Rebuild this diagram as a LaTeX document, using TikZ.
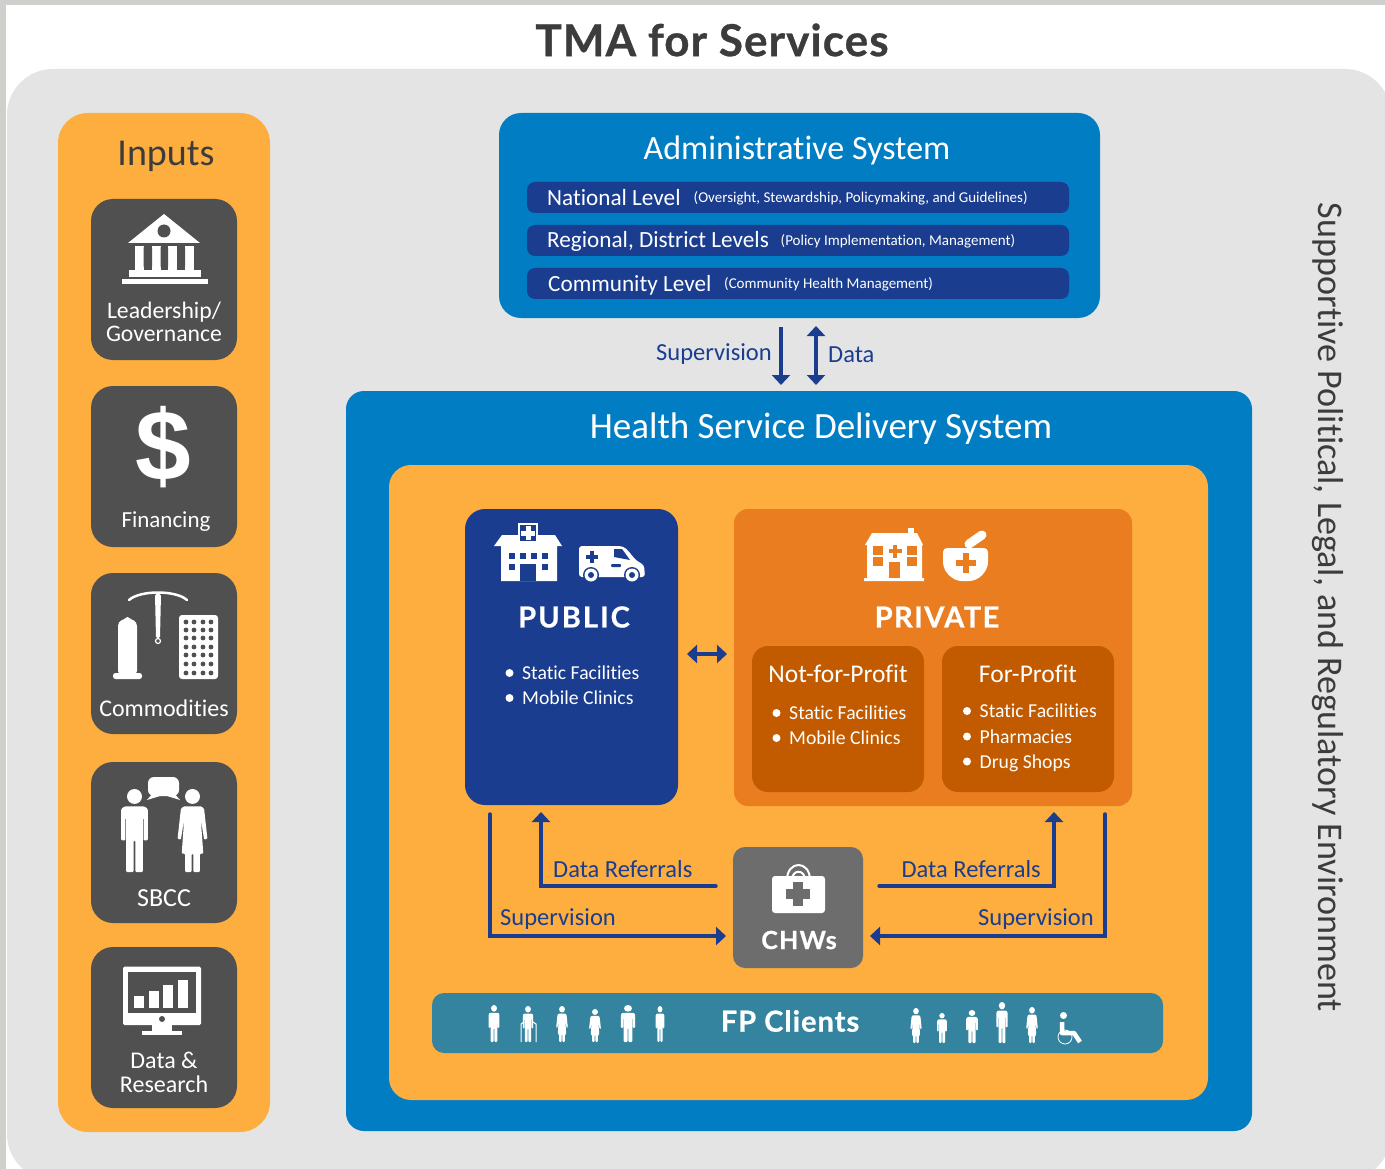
\documentclass[tikz,border=0pt]{standalone}
\usepackage{fontspec}
\setmainfont{Carlito}[Ligatures=NoCommon]
\newfontfamily\headfont{Lato}
\newfontfamily\dollarfont{Liberation Sans}
\usetikzlibrary{arrows.meta, calc}

\definecolor{StripGrey}{HTML}{CFCFCB}
\definecolor{BackGrey}{HTML}{E4E4E4}
\definecolor{InputOrange}{HTML}{FDAE3E}
\definecolor{CardGrey}{HTML}{505050}
\definecolor{TitleGrey}{HTML}{3C3C3C}
\definecolor{SystemBlue}{HTML}{007DC3}
\definecolor{DeepBlue}{HTML}{1A3D8F}
\definecolor{PrivateOrange}{HTML}{EA7D1F}
\definecolor{ProfitOrange}{HTML}{C25B00}
\definecolor{ClientTeal}{HTML}{34849F}
\definecolor{ChwGrey}{HTML}{6D6D6D}

\newcommand{\fsz}[1]{\fontsize{#1}{#1}\selectfont}
\newcommand{\boldhead}[2]{\headfont\bfseries\addfontfeature{LetterSpace=#2,FakeBold=0.7}\fsz{#1}}

\tikzset{
  panel/.style n args={3}{inner sep=0pt, outer sep=0pt, minimum width=#1pt, minimum height=#2pt, rounded corners=#3pt},
  inputtext/.style={white, font=\fsz{24}, align=center},
  whitetext/.style={white, inner sep=0pt},
  bluetext/.style={DeepBlue, font=\fsz{24.5}, inner sep=0pt},
  flow/.style={draw=DeepBlue, line width=3.4pt, -{Triangle[width=18pt,length=10pt]}},
  flowboth/.style={draw=DeepBlue, line width=3.4pt, {Triangle[width=18pt,length=10pt]}-{Triangle[width=18pt,length=10pt]}},
}

% one standing figure, drawn 100 units high
\newcommand{\manIcon}[4]{
  \begin{scope}[shift={(#1,#2)}, xscale=#4*(#3-#2)/100, yscale=(#3-#2)/100]
    \fill[white] (0,9) ellipse (9 and 9);
    \fill[white, rounded corners=1pt] (-12,21) -- (12,21) -- (16,24) -- (16,62) -- (11,62) -- (11,35)
      -- (10,35) -- (10,100) -- (1,100) -- (1,62) -- (-1,62) -- (-1,100) -- (-10,100) -- (-10,35)
      -- (-11,35) -- (-11,62) -- (-16,62) -- (-16,24) -- cycle;
  \end{scope}
}
\newcommand{\womanIcon}[4]{
  \begin{scope}[shift={(#1,#2)}, xscale=#4*(#3-#2)/100, yscale=(#3-#2)/100]
    \fill[white] (0,9) ellipse (9 and 9);
    \fill[white, rounded corners=1pt] (-11,21) -- (11,21) -- (14,24) -- (18,60) -- (14,61) -- (10,36)
      -- (13,78) -- (9,78) -- (9,100) -- (1,100) -- (1,78) -- (-1,78) -- (-1,100) -- (-9,100) -- (-9,78)
      -- (-13,78) -- (-10,36) -- (-14,61) -- (-18,60) -- (-14,24) -- cycle;
  \end{scope}
}
% a plus sign
\newcommand{\plusIcon}[5]{
  \fill[#5] ($(#1,#2)+(-#3,-#4)$) rectangle ($(#1,#2)+(#3,#4)$);
  \fill[#5] ($(#1,#2)+(-#4,-#3)$) rectangle ($(#1,#2)+(#4,#3)$);
}

\begin{document}
\begin{tikzpicture}[x=1pt, y=-1pt]
\useasboundingbox (0,0) rectangle (1385,1169);

\fill[StripGrey] (0,0) rectangle (1385,1169);
\fill[white] (6,5) rectangle (1385,1169);

\node[panel={1384}{1111}{46}, fill=BackGrey] (back) at (699,624.5) {};
\node[TitleGrey, inner sep=0pt, font=\boldhead{44}{2.5}] (title) at (712,40) {TMA for Services};
\node[TitleGrey, inner sep=0pt, rotate=-90, font=\fsz{36.1}] (environment) at (1328,607.5) {Supportive Political, Legal, and Regulatory Environment};

%% Inputs
\node[panel={212}{1019}{30}, fill=InputOrange] (inputs) at (164,622.5) {};
\node[anchor=base, inner sep=0pt, TitleGrey, font=\fsz{38}] (inputsTitle) at (166,166) {Inputs};

\foreach \cardName/\cardY in {leader/279.5, money/466.5, goods/653.5, talk/842.5, research/1027.5}
  \node[panel={146}{161}{22}, fill=CardGrey] (\cardName) at (164,\cardY) {};

\node[inputtext, font=\fsz{23.7}] (leaderText) at (164,322) {Leadership/\\Governance};
\node[inputtext, anchor=base, font=\fsz{23}] (moneyText) at (166,527) {Financing};
\node[inputtext, anchor=base] (goodsText) at (164,716) {Commodities};
\node[inputtext, anchor=base, font=\fsz{26}] (talkText) at (164,906) {SBCC};
\node[inputtext] (researchText) at (164,1072) {Data \&\\Research};

% building
\fill[white] (164,214) -- (200,243) -- (128,243) -- cycle;
\fill[CardGrey] (164,231) circle (6.5);
\foreach \colX in {135,152,168,185} {
  \fill[white] (\colX,246) rectangle ++(8.5,26);
}
\fill[white] (129,270) -- (201,270) -- (201,277) -- (129,277) -- cycle;
\fill[CardGrey, rounded corners=2pt] (143.5,246) -- (152,246) -- (152,268) -- (143.5,268) -- cycle;
\fill[CardGrey, rounded corners=2pt] (160.5,246) -- (168,246) -- (168,268) -- (160.5,268) -- cycle;
\fill[CardGrey, rounded corners=2pt] (177,246) -- (185,246) -- (185,268) -- (177,268) -- cycle;
\fill[white] (122,279) rectangle (208,284);

% dollar
\node[white, inner sep=0pt, font=\dollarfont\bfseries\fsz{100}] (dollar) at (163,447) {\$};

% condom, coil and pills
\fill[white, rounded corners=4pt] (118,675) -- (118,630) .. controls (118,620) and (124,620) .. (127.5,615)
  .. controls (131,620) and (137,620) .. (137,630) -- (137,675) -- cycle;
\fill[white, rounded corners=2.5pt] (113,673) rectangle (142,679);
\draw[white, line width=2.5pt, line cap=round] (129,600) .. controls (140,590) and (176,590) .. (187,600);
\fill[white, rounded corners=1.5pt] (155,594) -- (161,594) -- (160,638) -- (156,638) -- cycle;
\draw[white, line width=1.2pt] (158,641) circle (2.5);
\fill[white, rounded corners=3pt] (179,615) rectangle (218,679);
\foreach \dotX in {186,194,203,211}
  \foreach \dotY in {622,630,638,647,655,664,673}
    \fill[CardGrey] (\dotX,\dotY) circle (2.4);

% two people talking
\manIcon{134.5}{789}{872}{1}
\womanIcon{192.5}{789}{872}{1}
\fill[white, rounded corners=6pt] (148,777) rectangle (179,796);
\fill[white] (153,793) -- (147,800) -- (160,796) -- cycle;
\fill[white] (174,793) -- (180,800) -- (167,796) -- cycle;

% monitor
\fill[white, rounded corners=1.5pt] (123,966.5) rectangle (201,1025);
\fill[CardGrey] (128,972) rectangle (196,1013);
\foreach \barX/\barTop in {134/996, 149/991, 163/985, 178/980}
  \fill[white] (\barX,\barTop) rectangle ++(10,1008-\barTop);
\fill[CardGrey] (162,1019) circle (3);
\fill[white] (152,1025) rectangle (172,1032);
\fill[white] (142,1031) rectangle (182,1035);

%% Administrative system
\node[panel={601}{205}{22}, fill=SystemBlue] (admin) at (799.5,215.5) {};
\node[whitetext, anchor=base, font=\fsz{34}] (adminTitle) at (797,160) {Administrative System};

\foreach \levelName/\levelY in {national/197.5, regional/240.5, community/283.5}
  \node[panel={542}{31}{8}, fill=DeepBlue] (\levelName) at (798,\levelY) {};

\node[whitetext, anchor=base west, font=\fsz{23.2}] (nationalName) at (547,206) {National Level};
\node[whitetext, anchor=base west, font=\fsz{15}] (nationalNote) at (693.5,203) {(Oversight, Stewardship, Policymaking, and Guidelines)};
\node[whitetext, anchor=base west, font=\fsz{23.2}] (regionalName) at (547,248) {Regional, District Levels};
\node[whitetext, anchor=base west, font=\fsz{15}] (regionalNote) at (780.5,246) {(Policy Implementation, Management)};
\node[whitetext, anchor=base west, font=\fsz{23.2}] (communityName) at (548,291) {Community Level};
\node[whitetext, anchor=base west, font=\fsz{15}] (communityNote) at (724,289) {(Community Health Management)};

\coordinate (adminDown) at (781,327);
\coordinate (adminDownEnd) at (781,385);
\coordinate (adminData) at (816,326);
\coordinate (adminDataEnd) at (816,385);
\draw[flow] (adminDown) -- (adminDownEnd);
\draw[flowboth] (adminData) -- (adminDataEnd);
\node[bluetext, anchor=base east] (adminSuper) at (772,360) {Supervision};
\node[bluetext, anchor=base west] (adminDataText) at (828,362) {Data};

%% Service delivery
\node[panel={906}{740}{18}, fill=SystemBlue] (delivery) at (799,761) {};
\node[whitetext, anchor=base, font=\fsz{37}] (deliveryTitle) at (821,438) {Health Service Delivery System};
\node[panel={819}{635}{22}, fill=InputOrange] (field) at (798.5,782.5) {};

\node[panel={213}{296}{20}, fill=DeepBlue] (public) at (571.5,657) {};
\node[panel={398}{297}{14}, fill=PrivateOrange] (private) at (933,657.5) {};
\node[panel={172}{146}{16}, fill=ProfitOrange] (nonprofit) at (838,719) {};
\node[panel={172}{146}{16}, fill=ProfitOrange] (forprofit) at (1028,719) {};
\node[panel={130}{121}{12}, fill=ChwGrey] (chws) at (798,907.5) {};
\node[panel={731}{60}{12}, fill=ClientTeal] (clients) at (797.5,1023) {};

\node[whitetext, font=\boldhead{29}{7}] (publicTitle) at (574,617) {PUBLIC};
\node[whitetext, font=\boldhead{29}{5}] (privateTitle) at (937,617) {PRIVATE};
\node[whitetext, anchor=base, font=\fsz{25.5}] (nonprofitTitle) at (838,682) {Not-for-Profit};
\node[whitetext, anchor=base, font=\fsz{25.5}] (forprofitTitle) at (1028,682) {For-Profit};
\node[whitetext, font=\boldhead{25}{5}] (chwsTitle) at (799,940) {CHWs};
\node[whitetext, font=\boldhead{29}{3.5}] (clientsTitle) at (790,1021) {FP Clients};

\foreach \itemX/\itemY/\itemName/\itemText in {
    509.5/673/pubA/Static Facilities, 509.5/698/pubB/Mobile Clinics,
    776.5/713/nonA/Static Facilities, 776.5/738/nonB/Mobile Clinics,
    967/711/forA/Static Facilities, 967/736.5/forB/Pharmacies, 967/761.5/forC/Drug Shops} {
  \fill[white] (\itemX,\itemY) circle (4);
  \node[whitetext, anchor=base west, font=\fsz{19.7}] (\itemName) at (\itemX+12.5,\itemY+6.5) {\itemText};
}

% hospital
\fill[white] (494,546) -- (502,535) -- (555,535) -- (562,546) -- (557,546) -- (557,581) -- (501,581) -- (501,546) -- cycle;
\draw[white, line width=1.5pt, fill=DeepBlue] (519,524) rectangle (537,541.5);
\plusIcon{528}{533}{7}{2.5}{white}
\foreach \winX in {509,520,531,542}
  \fill[DeepBlue] (\winX,553) rectangle ++(6,6);
\fill[DeepBlue] (509,564) rectangle ++(6,6);
\fill[DeepBlue] (542,564) rectangle ++(6,6);
\fill[DeepBlue] (520,564) rectangle (536,581);

% ambulance
\fill[white, rounded corners=3pt] (579,546) -- (620,546) .. controls (627,548) and (632,556) .. (637,561)
  -- (644,565) -- (645,577) -- (579,577) -- cycle;
\fill[DeepBlue] (614,549) -- (622,549) -- (630,560) -- (614,557) -- cycle;
\plusIcon{592}{557}{6}{2}{DeepBlue}
\fill[DeepBlue, rounded corners=1pt] (611,564) rectangle (621,567);
\foreach \wheelX in {591,632} {
  \fill[DeepBlue] (\wheelX,575) circle (8);
  \fill[white] (\wheelX,575) circle (6.5);
  \fill[DeepBlue] (\wheelX,575) circle (3);
}

% house
\fill[white] (908,528) rectangle (914,535);
\fill[white] (865,545) -- (872,533) -- (917,533) -- (923,545) -- (922,545) -- (922,578) -- (924,578) -- (924,581)
  -- (864,581) -- (864,578) -- (867,578) -- (867,545) -- cycle;
\foreach \winX/\winY in {873/546, 907/546, 873/557, 907/557}
  \fill[PrivateOrange] (\winX,\winY) rectangle ++(10,8.5);
\fill[PrivateOrange] (889,562) rectangle (900,578);
\plusIcon{895}{551}{6.5}{2}{PrivateOrange}

% mortar
\draw[white, line width=9pt, line cap=round] (969,544) -- (982,535);
\fill[white, rounded corners=4pt] (943,548) -- (988,548) -- (988,558) .. controls (988,572) and (978,581) .. (965.5,581)
  .. controls (953,581) and (943,572) .. (943,558) -- cycle;
\plusIcon{966}{563}{10}{3}{PrivateOrange}

% bag
\draw[white, line width=2pt] (787,880) .. controls (787,860) and (810,860) .. (810,880);
\draw[white, line width=2pt] (792,880) .. controls (792,869) and (805,869) .. (805,880);
\fill[white, rounded corners=3pt] (772,876) rectangle (825,913);
\plusIcon{798}{894}{12}{5}{ChwGrey}

%% Flows between the boxes
\coordinate (pubSuper) at (490,814);
\coordinate (chwSuperL) at (726,936);
\coordinate (pubData) at (541,812);
\coordinate (chwDataL) at (716,886);
\coordinate (priSuper) at (1105,814);
\coordinate (chwSuperR) at (870,936);
\coordinate (priData) at (1054,812);
\coordinate (chwDataR) at (879,886);
\coordinate (pubLink) at (687,654);
\coordinate (priLink) at (727,654);

\draw[flow, line cap=round] (pubSuper) |- (chwSuperL);
\draw[flow, line cap=round] (priSuper) |- (chwSuperR);
\draw[flow, line cap=round] (chwDataL) -| (pubData);
\draw[flow, line cap=round] (chwDataR) -| (priData);
\draw[flowboth] (pubLink) -- (priLink);

\node[bluetext, anchor=base west] (dataLeft) at (553,877) {Data Referrals};
\node[bluetext, anchor=base west] (superLeft) at (500,925) {Supervision};
\node[bluetext, anchor=base east] (dataRight) at (1041,877) {Data Referrals};
\node[bluetext, anchor=base east] (superRight) at (1094,925) {Supervision};

%% FP clients
\manIcon{494}{1005}{1042}{.9}
\manIcon{528}{1006}{1042}{.9}
\draw[white, line width=1pt] (521,1042) -- (521,1024) -- (524,1022) (536,1042) -- (536,1024) -- (533,1022);
\womanIcon{562}{1006}{1042}{.9}
\womanIcon{595}{1009}{1042}{1}
\manIcon{628}{1005}{1042}{1.2}
\manIcon{660}{1006}{1042}{.75}
\womanIcon{916}{1008}{1043}{.9}
\manIcon{942}{1013}{1043}{1}
\manIcon{972}{1010}{1043}{1.1}
\manIcon{1002}{1002}{1043}{.85}
\womanIcon{1032}{1007}{1043}{.9}

% wheelchair
\fill[white] (1063.5,1015.5) circle (3.5);
\draw[white, line width=4.5pt, line join=round] (1062,1022) -- (1062,1033) -- (1074,1033) -- (1080,1042);
\draw[white, line width=.8pt] (1065,1037) circle (7);

\end{tikzpicture}
\end{document}
